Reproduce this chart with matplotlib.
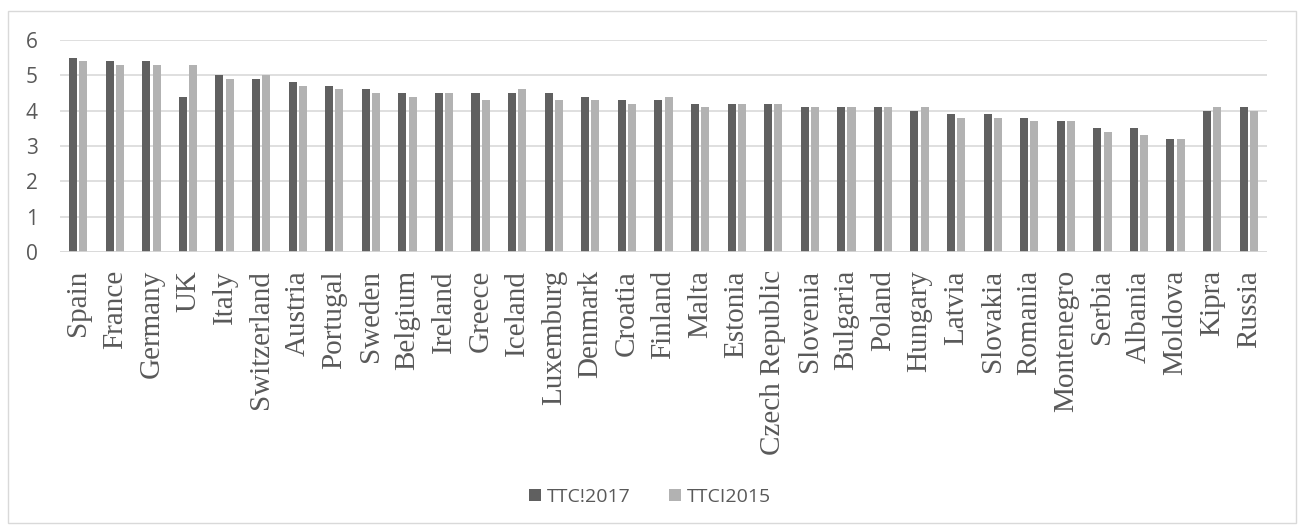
import matplotlib.pyplot as plt
from matplotlib.patches import Rectangle
import numpy as np

# Travel & tourism competitiveness index by country
countries = ["Spain", "France", "Germany", "UK", "Italy", "Switzerland", "Austria",
             "Portugal", "Sweden", "Belgium", "Ireland", "Greece", "Iceland",
             "Luxemburg", "Denmark", "Croatia", "Finland", "Malta", "Estonia",
             "Czech Republic", "Slovenia", "Bulgaria", "Poland", "Hungary", "Latvia",
             "Slovakia", "Romania", "Montenegro", "Serbia", "Albania", "Moldova",
             "Kipra", "Russia"]
ttci_2017 = [5.5, 5.4, 5.4, 4.4, 5.0, 4.9, 4.8, 4.7, 4.6, 4.5, 4.5, 4.5, 4.5,
             4.5, 4.4, 4.3, 4.3, 4.2, 4.2, 4.2, 4.1, 4.1, 4.1, 4.0, 3.9,
             3.9, 3.8, 3.7, 3.5, 3.5, 3.2, 4.0, 4.1]
ttci_2015 = [5.4, 5.3, 5.3, 5.3, 4.9, 5.0, 4.7, 4.6, 4.5, 4.4, 4.5, 4.3, 4.6,
             4.3, 4.3, 4.2, 4.4, 4.1, 4.2, 4.2, 4.1, 4.1, 4.1, 4.1, 3.8,
             3.8, 3.7, 3.7, 3.4, 3.3, 3.2, 4.1, 4.0]
series_names = ["TTC!2017", "TTCI2015"]

TEXT_GRAY = "#595959"
GRID_GRAY = "#d9d9d9"

fig = plt.figure(figsize=(13, 5.26), dpi=100)
ax = fig.add_axes([60 / 1300, 1 - 252 / 526, 1207 / 1300, 212 / 526])

x = np.arange(len(countries))
w = 0.22
ax.bar(x - 0.14, ttci_2017, width=w, color="#606060", label=series_names[0], zorder=3)
ax.bar(x + 0.14, ttci_2015, width=w, color="#b2b2b2", label=series_names[1], zorder=3)

ax.set_xlim(-0.5, len(countries) - 0.5)
ax.set_ylim(0, 6)
ax.set_yticks(range(0, 7))
ax.grid(axis="y", color=GRID_GRAY, linewidth=1.2, zorder=0)
for s in ax.spines.values():
    s.set_visible(False)
ax.axhline(0, color=GRID_GRAY, linewidth=1.2, zorder=4)

ax.set_xticks(x)
ax.set_xticklabels(countries, rotation=90, fontfamily="Liberation Serif",
                   fontsize=21, color=TEXT_GRAY, va="top")
ax.tick_params(axis="x", length=0, pad=13)
ax.tick_params(axis="y", length=0, pad=16, labelsize=15, labelcolor=TEXT_GRAY)
for lab in ax.get_yticklabels():
    lab.set_fontfamily("Open Sans")

leg = fig.legend(loc="center", bbox_to_anchor=(0.5, 1 - 497 / 526), ncol=2,
                 frameon=False, handlelength=0.6, handleheight=0.6,
                 columnspacing=2.0, handletextpad=0.3,
                 prop={"family": "Open Sans", "size": 14})
for t in leg.get_texts():
    t.set_color(TEXT_GRAY)

# light frame around the whole chart
fig.patches.append(Rectangle((8 / 1300, 3 / 526), 1288 / 1300, 512 / 526,
                             transform=fig.transFigure, fill=False,
                             edgecolor=GRID_GRAY, linewidth=1))

fig.savefig("out.png", dpi=100)
